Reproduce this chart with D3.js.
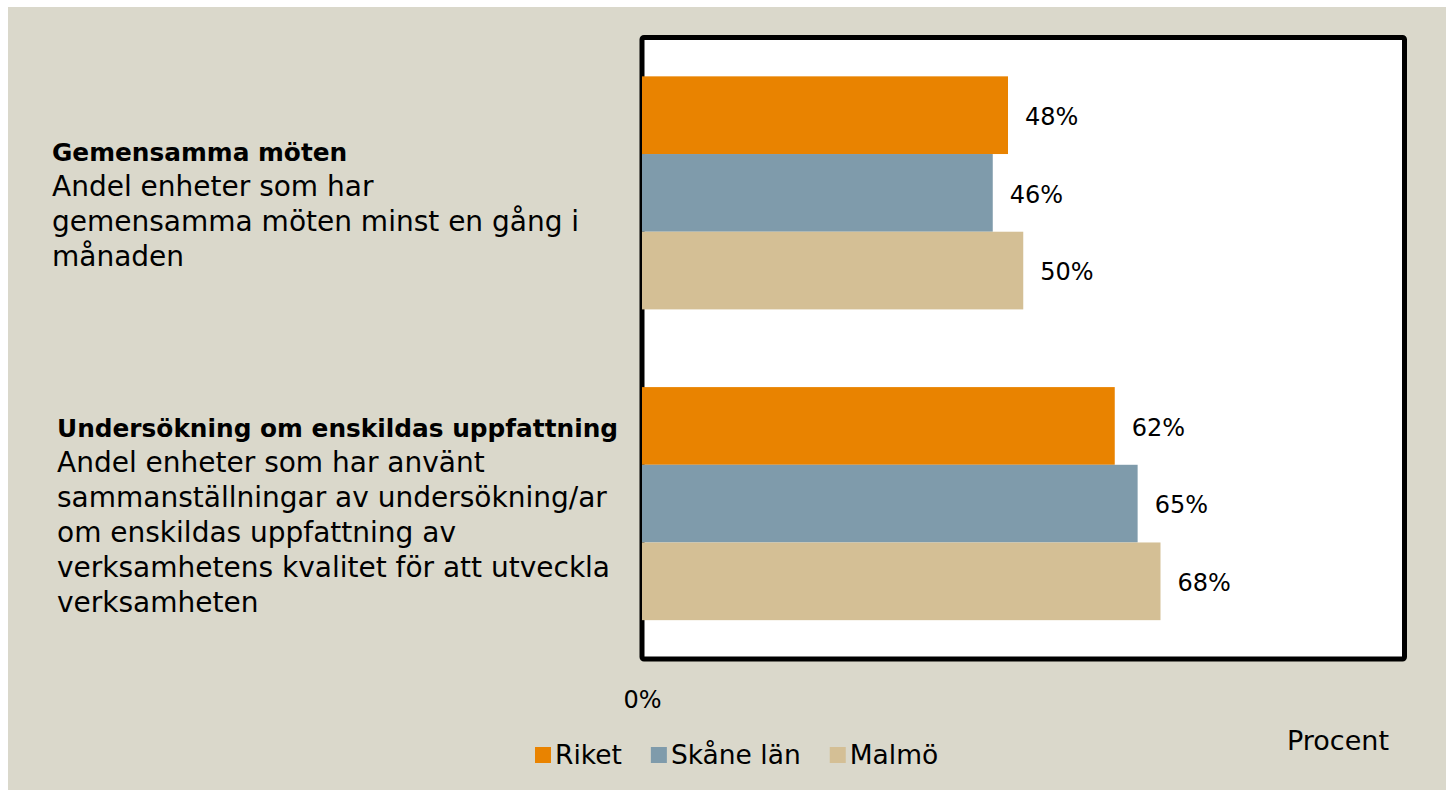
<!DOCTYPE html>
<html>
<head>
<meta charset="utf-8">
<script src="https://cdn.jsdelivr.net/npm/d3@7"></script>
<style>
  body { margin: 0; background: #fff; }
  text { font-family: "DejaVu Sans", sans-serif; fill: #000; }
</style>
</head>
<body>
<div id="graph"></div>
<script>

// data
var categories = ["Gemensamma möten", "Undersökning om enskildas uppfattning"];
var descriptions = [
  ["Andel enheter som har", "gemensamma möten minst en gång i", "månaden"],
  ["Andel enheter som har använt", "sammanställningar av undersökning/ar",
   "om enskildas uppfattning av", "verksamhetens kvalitet för att utveckla", "verksamheten"]
];
var series = ["Riket", "Skåne län", "Malmö"];
var riket = [48, 62];
var skane = [46, 65];
var malmo = [50, 68];
var xTicks = [0];
var unitLabel = "Procent";

var values = [riket, skane, malmo];
var colors = ["#E98300", "#7F9BAB", "#D4BF95"];

// set the dimensions and margins of the graph
var W = 1446, H = 790;
var margin = {top: 37.5, left: 642},
    width = 762.5,
    height = 621.5;

var root = d3.select("#graph")
  .append("svg")
    .attr("width", W)
    .attr("height", H);

// beige page background, white strip top/left
root.append("rect")
  .attr("x", 8).attr("y", 7)
  .attr("width", W - 8).attr("height", H - 7)
  .attr("fill", "#DAD8CB");

var svg = root.append("g")
  .attr("transform", "translate(" + margin.left + "," + margin.top + ")");

// plot frame
svg.append("rect")
  .attr("x", 0).attr("y", 0)
  .attr("width", width).attr("height", height)
  .attr("rx", 2)
  .attr("fill", "#fff")
  .attr("stroke", "#000")
  .attr("stroke-width", 5);

var x = d3.scaleLinear()
  .domain([0, 100])
  .range([0, width]);

var y0 = d3.scaleBand()
  .domain(categories)
  .range([0, height])
  .paddingInner(0.25)
  .paddingOuter(0.125);

var y1 = d3.scaleBand()
  .domain(series)
  .range([0, y0.bandwidth()]);

// bars
var rows = [];
categories.forEach(function(c, i) {
  series.forEach(function(s, j) {
    rows.push({cat: c, ser: s, v: values[j][i], color: colors[j]});
  });
});

svg.append("g")
  .selectAll("rect")
  .data(rows)
  .enter()
  .append("rect")
    .attr("x", x(0))
    .attr("y", function(d) { return y0(d.cat) + y1(d.ser); })
    .attr("width", function(d) { return x(d.v) - x(0); })
    .attr("height", y1.bandwidth())
    .attr("fill", function(d) { return d.color; });

// value labels
svg.append("g")
  .selectAll("text")
  .data(rows)
  .enter()
  .append("text")
    .attr("x", function(d) { return x(d.v) + 17; })
    .attr("y", function(d) { return y0(d.cat) + y1(d.ser) + y1.bandwidth() / 2 + 1; })
    .attr("dy", "0.36em")
    .style("font-size", "24px")
    .text(function(d) { return d.v + "%"; });

// x axis: only the 0% tick shown below the frame
var xAxis = svg.append("g")
  .attr("transform", "translate(0," + (height + 46) + ")")
  .call(d3.axisBottom(x).tickValues(xTicks).tickSize(0).tickFormat(function(d) { return d + "%"; }));
xAxis.select(".domain").remove();
xAxis.selectAll("text")
  .attr("dy", 0)
  .style("font-family", "DejaVu Sans, sans-serif")
  .style("font-size", "24px")
  .attr("fill", "#000");

// category labels on the left
var labelX = [52, 57];
var lineH = 35;
categories.forEach(function(c, i) {
  var lines = [c].concat(descriptions[i]);
  var mid = margin.top + y0(c) + y0.bandwidth() / 2 + 13;
  var first = mid - (lines.length - 1) / 2 * lineH + 8;
  var t = root.append("text")
    .attr("x", labelX[i])
    .attr("y", first);
  lines.forEach(function(l, k) {
    t.append("tspan")
      .attr("x", labelX[i])
      .attr("y", first + k * lineH)
      .style("font-size", k == 0 ? "24.8px" : "28px")
      .style("font-weight", k == 0 ? "bold" : "normal")
      .text(l);
  });
});

// unit label
root.append("text")
  .attr("x", 1287)
  .attr("y", 750)
  .style("font-size", "27px")
  .text(unitLabel);

// legend
var legend = root.append("g");
var lx = 535;
series.forEach(function(s, j) {
  legend.append("rect")
    .attr("x", lx).attr("y", 747)
    .attr("width", 16).attr("height", 16)
    .attr("fill", colors[j]);
  var lt = legend.append("text")
    .attr("x", lx + 20)
    .attr("y", 764)
    .style("font-size", "26.5px")
    .text(s);
  lx = lx + 20 + lt.node().getComputedTextLength() + 29;
});

</script>
</body>
</html>
